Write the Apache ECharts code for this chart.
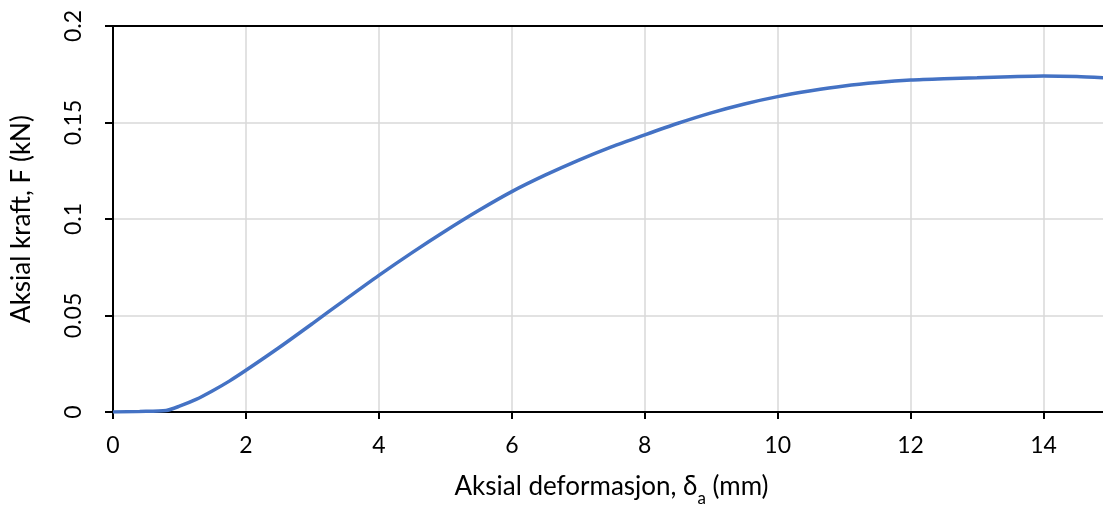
<!DOCTYPE html>
<html>
<head>
<meta charset="utf-8">
<script src="https://cdn.jsdelivr.net/npm/echarts@6/dist/echarts.min.js"></script>
<style>
  html, body { margin: 0; padding: 0; background: #fff; }
  #chart { width: 1103px; height: 507px; }
</style>
</head>
<body>
<div id="chart"></div>
<script>
// Axial deformation (mm) and axial force (kN) from the load test
const deformation = [0, 0.4, 0.8, 1.0, 1.25, 1.5, 1.75, 2.0, 2.5, 3.0, 3.5, 4.0, 4.5, 5.0, 5.5, 6.0,
  6.5, 7.0, 7.5, 8.0, 8.5, 9.0, 9.5, 10.0, 10.5, 11.0, 11.5, 12.0, 12.5, 13.0, 13.5, 14.0, 14.5, 15.0];
const force = [0, 0.0003, 0.0008, 0.003, 0.0065, 0.011, 0.016, 0.0216, 0.0334, 0.0458, 0.0584, 0.0708, 0.0826, 0.0938, 0.1044, 0.1142,
  0.1227, 0.1304, 0.1374, 0.1436, 0.1496, 0.155, 0.1596, 0.1634, 0.1664, 0.1689, 0.1707, 0.172, 0.1727, 0.1732, 0.1737, 0.1741, 0.1738, 0.173];

const xTicks = { min: 0, max: 15, interval: 2 };
const yTicks = { min: 0, max: 0.2, interval: 0.05 };

const font = 'Lato, sans-serif';
const labelSize = 23;
const nameSize = 26;
const chart = echarts.init(document.getElementById('chart'));

chart.setOption({
  animation: false,
  grid: {
    left: 113, top: 26, right: -7, bottom: 95,
    containLabel: false, outerBoundsMode: 'none'
  },
  xAxis: [{
    type: 'value',
    min: xTicks.min, max: xTicks.max, interval: xTicks.interval,
    name: '{t|Aksial deformasjon, δ}{s|a}{t| (mm)}',
    nameLocation: 'middle', nameGap: 55,
    nameTextStyle: {
      rich: {
        t: { fontFamily: font, fontSize: nameSize, color: '#000', lineHeight: 40 },
        s: { fontFamily: font, fontSize: 17, color: '#000', lineHeight: 16, verticalAlign: 'bottom' }
      }
    },
    axisLine: { show: true, lineStyle: { color: '#000', width: 2 } },
    axisTick: { show: true, inside: false, length: 7, lineStyle: { color: '#000', width: 2 } },
    axisLabel: { fontFamily: font, fontSize: labelSize, color: '#000', margin: 22, showMaxLabel: false },
    splitLine: { show: true, lineStyle: { color: '#d9d9d9', width: 1.5 } }
  }, {
    // top frame line of the plot area
    type: 'value', position: 'top', z: 10,
    min: xTicks.min, max: xTicks.max, interval: xTicks.interval,
    axisLine: { show: true, lineStyle: { color: '#000', width: 2 } },
    axisTick: { show: false }, axisLabel: { show: false }, splitLine: { show: false }
  }],
  yAxis: {
    type: 'value',
    min: yTicks.min, max: yTicks.max, interval: yTicks.interval,
    name: 'Aksial kraft, F (kN)',
    nameLocation: 'middle', nameGap: 78, nameRotate: 90,
    nameTextStyle: { fontFamily: font, fontSize: nameSize, color: '#000' },
    axisLine: { show: true, lineStyle: { color: '#000', width: 2 } },
    axisTick: { show: true, inside: false, length: 8, lineStyle: { color: '#000', width: 2 } },
    axisLabel: {
      fontFamily: font, fontSize: labelSize, color: '#000', margin: 28, rotate: 90,
      formatter: v => String(Math.round(v * 100) / 100)
    },
    splitLine: { show: true, lineStyle: { color: '#d9d9d9', width: 1.5 } }
  },
  series: [{
    type: 'line',
    xAxisIndex: 0,
    data: deformation.map((x, i) => [x, force[i]]),
    showSymbol: false,
    smooth: 0.25,
    lineStyle: { color: '#4472C4', width: 3.5 },
    clip: true
  }]
});
</script>
</body>
</html>
